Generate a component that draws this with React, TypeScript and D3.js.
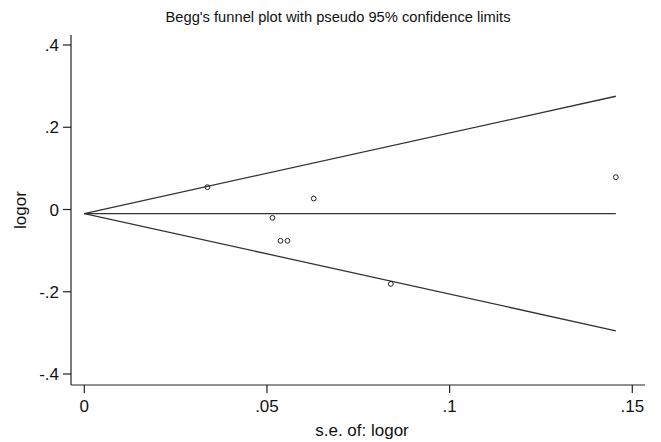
import React, { useRef, useEffect } from 'react';
import * as d3 from 'd3';

// study standard errors and log odds ratios
const seValues = [0.0337, 0.0515, 0.0537, 0.0556, 0.0628, 0.0839, 0.1455];
const logorValues = [0.0543, -0.0202, -0.0762, -0.0762, 0.0268, -0.181, 0.0786];
const pooledEstimate = -0.0098;
const xTicks = [0, 0.05, 0.1, 0.15];
const yTicks = [-0.4, -0.2, 0, 0.2, 0.4];

const fmt = (v: number) => {
  if (v === 0) return '0';
  const s = String(v);
  return s.replace('0.', '.');
};

const App: React.FC = () => {
  const svgRef = useRef<SVGSVGElement>(null);
  const width = 661;
  const height = 442;
  const font = '"Liberation Sans", Arial, sans-serif';

  useEffect(() => {
    if (!svgRef.current) return;
    const svg = d3.select(svgRef.current);
    svg.selectAll('*').remove();

    const x = d3.scaleLinear().domain([0, 0.15]).range([84.3, 632.3]);
    const y = d3.scaleLinear().domain([-0.4, 0.4]).range([374, 45]);

    const left = 71, right = 645, top = 35, bottom = 385;

    svg.append('rect').attr('width', width).attr('height', height).attr('fill', 'white');

    // title
    svg.append('text')
      .attr('x', 338).attr('y', 22)
      .attr('text-anchor', 'middle')
      .attr('font-family', font).attr('font-size', 14)
      .attr('textLength', 345).attr('lengthAdjust', 'spacingAndGlyphs')
      .attr('fill', '#111')
      .text("Begg's funnel plot with pseudo 95% confidence limits");

    // axes
    const axisColor = '#222';
    svg.append('line').attr('x1', left).attr('x2', left).attr('y1', top).attr('y2', bottom)
      .attr('stroke', axisColor).attr('stroke-width', 1.2);
    svg.append('line').attr('x1', left).attr('x2', right).attr('y1', bottom).attr('y2', bottom)
      .attr('stroke', axisColor).attr('stroke-width', 1.2);

    const yt = svg.append('g');
    yTicks.forEach(t => {
      yt.append('line').attr('x1', left - 8).attr('x2', left).attr('y1', y(t)).attr('y2', y(t))
        .attr('stroke', axisColor).attr('stroke-width', 1.2);
      yt.append('text').attr('x', left - 12).attr('y', y(t) + 6)
        .attr('text-anchor', 'end').attr('font-family', font).attr('font-size', 17)
        .attr('fill', '#111').text(fmt(t));
    });

    const xt = svg.append('g');
    xTicks.forEach(t => {
      xt.append('line').attr('x1', x(t)).attr('x2', x(t)).attr('y1', bottom).attr('y2', bottom + 8)
        .attr('stroke', axisColor).attr('stroke-width', 1.2);
      xt.append('text').attr('x', x(t)).attr('y', 412)
        .attr('text-anchor', 'middle').attr('font-family', font).attr('font-size', 17)
        .attr('fill', '#111').text(fmt(t));
    });

    svg.append('text')
      .attr('x', 362).attr('y', 436)
      .attr('text-anchor', 'middle').attr('font-family', font).attr('font-size', 17)
      .attr('fill', '#111').text('s.e. of: logor');

    svg.append('text')
      .attr('transform', `translate(26,210) rotate(-90)`)
      .attr('text-anchor', 'middle').attr('font-family', font).attr('font-size', 17)
      .attr('fill', '#111').text('logor');

    // funnel lines
    const maxSe = d3.max(seValues) as number;
    const lineColor = '#333';
    const funnel = [
      [[0, pooledEstimate], [maxSe, pooledEstimate]],
      [[0, pooledEstimate], [maxSe, pooledEstimate + 1.96 * maxSe]],
      [[0, pooledEstimate], [maxSe, pooledEstimate - 1.96 * maxSe]],
    ];
    const line = d3.line<number[]>().x(d => x(d[0])).y(d => y(d[1]));
    funnel.forEach(seg => {
      svg.append('path').attr('d', line(seg) as string)
        .attr('fill', 'none').attr('stroke', lineColor).attr('stroke-width', 1.3);
    });

    // study points
    svg.selectAll('circle.pt')
      .data(seValues.map((s, i) => [s, logorValues[i]]))
      .enter()
      .append('circle')
      .attr('class', 'pt')
      .attr('cx', d => x(d[0]))
      .attr('cy', d => y(d[1]))
      .attr('r', 2.4)
      .attr('fill', 'none')
      .attr('stroke', '#222')
      .attr('stroke-width', 1);
  }, []);

  return (
    <div style={{ position: 'fixed', left: 0, top: 0 }}>
      <svg ref={svgRef} width={width} height={height} style={{ display: 'block' }} />
    </div>
  );
};

export default App;
